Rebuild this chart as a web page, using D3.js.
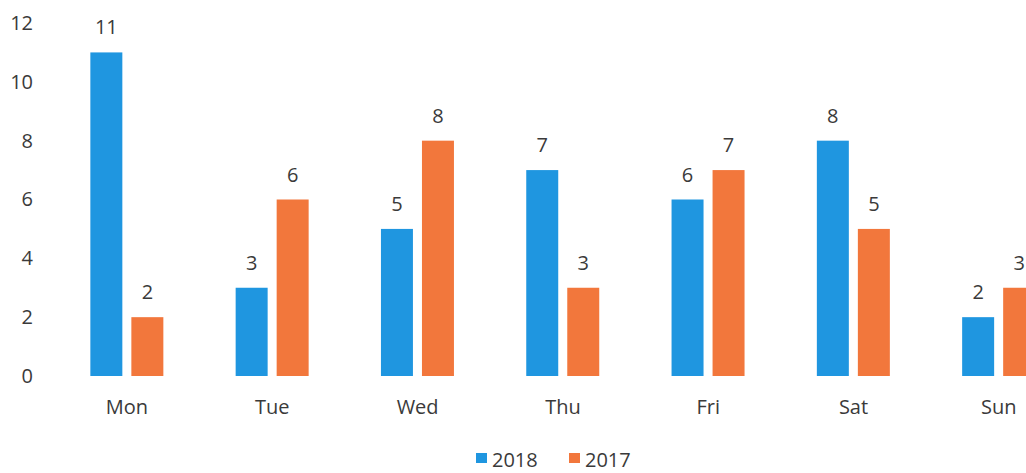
<!DOCTYPE html>
<html>
<head>
<meta charset="utf-8">
<script src="https://cdn.jsdelivr.net/npm/d3@7"></script>
<style>
  body { margin: 0; background: #fff; }
  svg { display: block; }
  text { font-family: "Open Sans", "Noto Sans", sans-serif; fill: #3a3a3a; }
</style>
</head>
<body>
<svg id="chart"></svg>
<script>
// data
var days = ["Mon", "Tue", "Wed", "Thu", "Fri", "Sat", "Sun"];
var series = ["2018", "2017"];
var values2018 = [11, 3, 5, 7, 6, 8, 2];
var values2017 = [2, 6, 8, 3, 7, 5, 3];
var yTicks = [0, 2, 4, 6, 8, 10, 12];
var colors = ["#1f96e0", "#f2773c"];

var W = 1026, H = 473, fs = "20px";
var svg = d3.select("#chart").attr("width", W).attr("height", H);

var step = 145.3, x0 = 127 - step / 2;
var x = d3.scaleBand().domain(days).range([x0, x0 + step * days.length]);
var xs = d3.scaleBand().domain(series).range([36, 109]).paddingInner(0.22);
var y = d3.scaleLinear().domain([0, 12]).range([376, 23]);

// y axis labels, no line
var yAxis = svg.append("g")
  .attr("transform", "translate(33,0)")
  .call(d3.axisLeft(y).tickValues(yTicks).tickSize(0).tickPadding(0));
yAxis.select(".domain").remove();
yAxis.selectAll("text").style("font-size", fs).style("fill", "#3a3a3a")
  .style("font-family", "'Open Sans', sans-serif");

var rows = days.map(function(d, i) {
  return {day: d, vals: [values2018[i], values2017[i]]};
});

var groups = svg.selectAll("g.day")
  .data(rows).enter()
  .append("g")
  .attr("class", "day")
  .attr("transform", function(d) { return "translate(" + x(d.day) + ",0)"; });

groups.selectAll("rect")
  .data(function(d) { return d.vals.map(function(v, j) { return {s: series[j], v: v, j: j}; }); })
  .enter().append("rect")
  .attr("x", function(d) { return xs(d.s); })
  .attr("y", function(d) { return y(d.v); })
  .attr("width", xs.bandwidth())
  .attr("height", function(d) { return y(0) - y(d.v); })
  .attr("fill", function(d) { return colors[d.j]; });

groups.selectAll("text.val")
  .data(function(d) { return d.vals.map(function(v, j) { return {s: series[j], v: v}; }); })
  .enter().append("text")
  .attr("class", "val")
  .attr("x", function(d) { return xs(d.s) + xs.bandwidth() / 2; })
  .attr("y", function(d) { return y(d.v) - 18; })
  .attr("text-anchor", "middle")
  .style("font-size", fs)
  .text(function(d) { return d.v; });

// category labels
svg.selectAll("text.cat")
  .data(days).enter()
  .append("text")
  .attr("class", "cat")
  .attr("x", function(d) { return x(d) + x.bandwidth() / 2; })
  .attr("y", 414)
  .attr("text-anchor", "middle")
  .style("font-size", fs)
  .text(function(d) { return d; });

// legend
var legend = svg.append("g").attr("transform", "translate(476,0)");
var legX = [0, 93];
series.forEach(function(s, i) {
  legend.append("rect")
    .attr("x", legX[i]).attr("y", 453)
    .attr("width", 11).attr("height", 10)
    .attr("fill", colors[i]);
  legend.append("text")
    .attr("x", legX[i] + 16).attr("y", 467)
    .style("font-size", fs)
    .text(s);
});
</script>
</body>
</html>
